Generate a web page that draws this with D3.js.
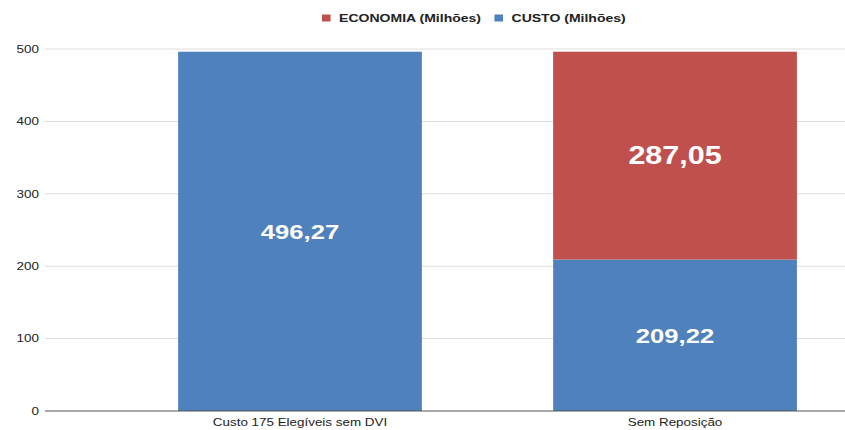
<!DOCTYPE html>
<html>
<head>
<meta charset="utf-8">
<script src="https://cdn.jsdelivr.net/npm/d3@7"></script>
<style>
  html, body { margin: 0; padding: 0; background: #fff; }
  text { font-family: "Liberation Sans", Arial, sans-serif; }
</style>
</head>
<body>
<div id="chart"></div>
<script>
// chart data
const categories = ["Custo 175 Elegíveis sem DVI", "Sem Reposição"];
const custo = [496.27, 209.22];
const economia = [0, 287.05];
const seriesNames = ["ECONOMIA (Milhões)", "CUSTO (Milhões)"];
const yTicks = [0, 100, 200, 300, 400, 500];

// the picture is a bit wider than it is tall, so draw in a narrower box and stretch it
const stretch = 1.22
const outerW = 845, outerH = 430
const W = outerW / stretch

const colors = {economia: "#c0504d", custo: "#4f81bd"}
const fmt = d3.formatLocale({decimal: ",", thousands: ".", grouping: [3], currency: ["R$", ""]}).format(".2f")

const svg = d3.select("#chart")
    .append("svg")
    .attr("width", outerW)
    .attr("height", outerH)
    .attr("viewBox", `0 0 ${W} ${outerH}`)
    .attr("preserveAspectRatio", "none")

const plotLeft = 45 / stretch

// y axis
const y = d3.scaleLinear()
    .domain([0, 500])
    .range([411, 49])

// x axis (the right part of the original plot is cut off)
const x = d3.scaleBand()
    .domain(categories)
    .range([92.2, 707])
    .paddingInner(0.35)
    .paddingOuter(0.175)

// grid lines
svg.append("g")
    .selectAll("line")
    .data(yTicks.filter(t => t > 0))
    .enter()
    .append("line")
    .attr("x1", plotLeft)
    .attr("x2", W)
    .attr("y1", d => y(d))
    .attr("y2", d => y(d))
    .attr("stroke", "#dedede")
    .attr("stroke-width", 1)

// y tick labels
svg.append("g")
    .selectAll("text")
    .data(yTicks)
    .enter()
    .append("text")
    .attr("x", plotLeft - 5)
    .attr("y", d => y(d))
    .attr("dy", "0.35em")
    .attr("text-anchor", "end")
    .attr("font-size", 11)
    .attr("fill", "#222")
    .text(d => d)

// stacked bars
const stacked = categories.map((c, i) => ({cat: c, custo: custo[i], economia: economia[i]}))
const stack = d3.stack().keys(["custo", "economia"])(stacked)

const layer = svg.append("g")
    .selectAll("g")
    .data(stack)
    .enter()
    .append("g")
    .attr("fill", d => colors[d.key])

layer.selectAll("rect")
    .data(d => d.filter(s => s[1] - s[0] > 0))
    .enter()
    .append("rect")
    .attr("x", d => x(d.data.cat))
    .attr("y", d => y(d[1]))
    .attr("width", x.bandwidth())
    .attr("height", d => y(d[0]) - y(d[1]))

// value labels
const labelSize = {custo: 21, economia: 25}
stack.forEach(s => {
    svg.append("g")
        .selectAll("text")
        .data(s.filter(d => d[1] - d[0] > 0))
        .enter()
        .append("text")
        .attr("x", d => x(d.data.cat) + x.bandwidth() / 2)
        .attr("y", d => (y(d[0]) + y(d[1])) / 2)
        .attr("dy", "0.35em")
        .attr("text-anchor", "middle")
        .attr("font-size", labelSize[s.key])
        .attr("font-weight", "bold")
        .attr("fill", "#fff")
        .text(d => fmt(d[1] - d[0]))
})

// baseline
svg.append("line")
    .attr("x1", plotLeft)
    .attr("x2", W)
    .attr("y1", y(0))
    .attr("y2", y(0))
    .attr("stroke", "#555")
    .attr("stroke-width", 1)

// category labels
svg.append("g")
    .selectAll("text")
    .data(categories)
    .enter()
    .append("text")
    .attr("x", d => x(d) + x.bandwidth() / 2)
    .attr("y", 426)
    .attr("text-anchor", "middle")
    .attr("font-size", 11)
    .attr("fill", "#222")
    .text(d => d)

// legend
const legend = svg.append("g")
    .attr("transform", `translate(${322 / stretch}, 18)`)
const legendKeys = ["economia", "custo"]
let lx = 0
seriesNames.forEach((name, i) => {
    const g = legend.append("g").attr("transform", `translate(${lx}, 0)`)
    g.append("rect")
        .attr("x", 0)
        .attr("y", -3.5)
        .attr("width", 7)
        .attr("height", 7)
        .attr("fill", colors[legendKeys[i]])
    const t = g.append("text")
        .attr("x", 14)
        .attr("dy", "0.35em")
        .attr("font-size", 11.5)
        .attr("font-weight", "bold")
        .attr("fill", "#222")
        .text(name)
    lx += 14 + t.node().getComputedTextLength() + 11
})
</script>
</body>
</html>
